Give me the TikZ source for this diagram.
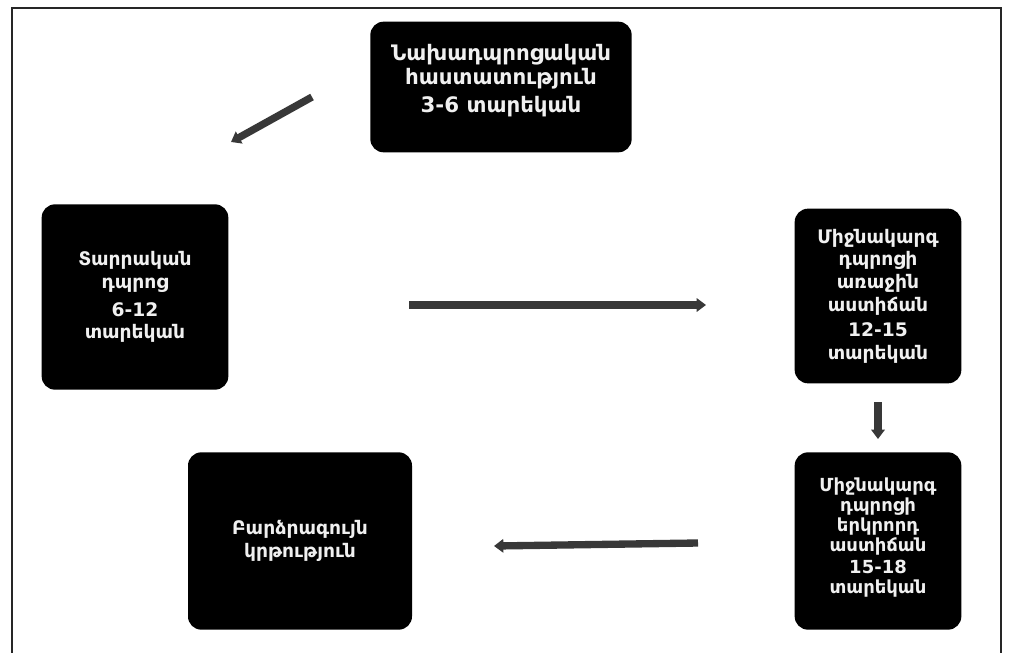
\documentclass[tikz,border=0pt]{standalone}
\usepackage{fontspec}
\setmainfont{DejaVu Sans}
\usetikzlibrary{arrows.meta}

\tikzset{
  stage/.style={fill=black, text=white!94!black, rounded corners=10pt, align=center,
    inner sep=0pt, font=\bfseries\fontsize{14}{17}\selectfont},
  flow/.style={draw=black!78, line width=5.5pt, -{Triangle[length=7pt,width=10pt]}}
}

\begin{document}
\begin{tikzpicture}[x=0.75pt,y=-0.75pt]
  \useasboundingbox (0,0) rectangle (1010,653);
  \clip (0,0) rectangle (1010,653);
  \draw[line width=1.6pt, black!85] (12,670) -- (12,8) -- (1001,8) -- (1001,670); % frame, open at the bottom

  % the stages
  \node[stage, minimum width=196pt, minimum height=98pt, font=\bfseries\fontsize{16}{18}\selectfont] (preschool) at (501,87)
    {Նախադպրոցական\\հաստատություն\\[3pt]3-6 տարեկան\rule[-13pt]{0pt}{0pt}};
  \node[stage, minimum width=140pt, minimum height=139pt] (primary) at (135,297)
    {Տարրական\\դպրոց\\[4pt]6-12\\տարեկան};
  \node[stage, minimum width=125pt, minimum height=131pt] (midfirst) at (878,296)
    {Միջնակարգ\\դպրոցի\\առաջին\\աստիճան\\[2pt]12-15\\տարեկան};
  \node[stage, minimum width=125pt, minimum height=133pt, font=\bfseries\fontsize{13.5}{15}\selectfont] (midsecond) at (878,541)
    {Միջնակարգ\\դպրոցի\\երկրորդ\\աստիճան\\[1pt]15-18\\տարեկան\rule[-8pt]{0pt}{0pt}};
  \node[stage, minimum width=168pt, minimum height=133pt] (higher) at (300,541)
    {Բարձրագույն\\կրթություն};

  % arrow ends
  \coordinate (a1) at (312,97);  \coordinate (b1) at (231,142);
  \coordinate (a2) at (409,305); \coordinate (b2) at (706,305);
  \coordinate (a3) at (878,402); \coordinate (b3) at (878,439);
  \coordinate (a4) at (698,543); \coordinate (b4) at (494,546);
  \foreach \i in {1,2,3,4}
    \draw[flow] (a\i) -- (b\i);
\end{tikzpicture}
\end{document}
